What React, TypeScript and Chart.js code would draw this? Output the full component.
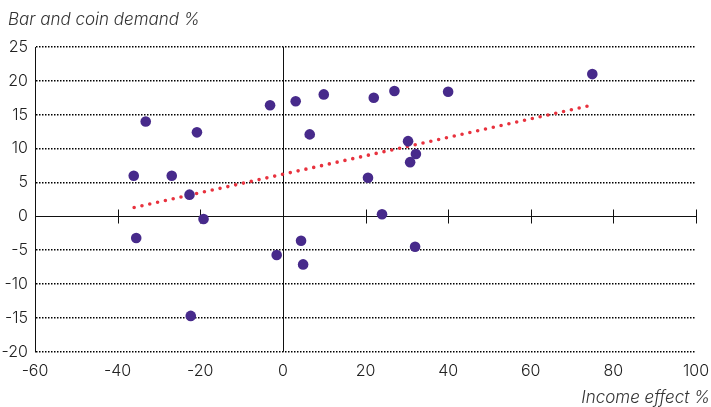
import React, { useEffect, useRef } from "react";
import { Chart, registerables } from "chart.js";

Chart.register(...registerables);

const incomeEffect = [
  -36.1, -33.2, -26.9, -20.8, -22.6, -19.2, -35.5, -22.3, -1.5, 4.4, 4.9, -3.1, 3.1,
  9.9, 6.5, 22.0, 27.0, 40.0, 74.9, 30.3, 32.2, 30.8, 20.6, 24.0, 32.0,
];
const barCoinDemand = [
  6.0, 14.0, 6.0, 12.4, 3.2, -0.4, -3.2, -14.7, -5.7, -3.6, -7.1, 16.4, 17.0,
  18.0, 12.1, 17.5, 18.5, 18.4, 21.0, 11.1, 9.2, 8.0, 5.7, 0.3, -4.5,
];
const trendX = [-36, 74];
const trendY = [1.3, 16.3];
const xTicks = [-60, -40, -20, 0, 20, 40, 60, 80, 100];
const yTicks = [-20, -15, -10, -5, 0, 5, 10, 15, 20, 25];
const yTitle = "Bar and coin demand %";
const xTitle = "Income effect %";

const FONT = "Inter, 'Liberation Sans', Arial, sans-serif";

const axesDecor = {
  id: "axesDecor",
  beforeDatasetsDraw(chart: any) {
    const { ctx, chartArea, scales } = chart;
    const x = scales.x;
    const y = scales.y;
    const y0 = Math.round(y.getPixelForValue(0)) + 0.5;
    const x0 = Math.round(x.getPixelForValue(0)) + 0.5;
    ctx.save();
    ctx.strokeStyle = "#111";
    ctx.lineWidth = 1;
    ctx.setLineDash([]);
    ctx.beginPath();
    ctx.moveTo(chartArea.left, y0);
    ctx.lineTo(chartArea.right, y0);
    ctx.moveTo(x0, chartArea.top);
    ctx.lineTo(x0, chartArea.bottom);
    for (const v of xTicks) {
      const px = Math.round(x.getPixelForValue(v)) + 0.5;
      ctx.moveTo(px, y0 - 7);
      ctx.lineTo(px, y0 + 7);
    }
    ctx.stroke();
    ctx.restore();
  },
  afterDraw(chart: any) {
    const { ctx } = chart;
    ctx.save();
    ctx.fillStyle = "#333";
    ctx.font = `italic 300 17px ${FONT}`;
    ctx.textBaseline = "middle";
    ctx.textAlign = "left";
    ctx.fillText(yTitle, 8, 20);
    ctx.textAlign = "right";
    ctx.fillText(xTitle, 710, 398);
    ctx.restore();
  },
};

export default function App() {
  const ref = useRef<HTMLCanvasElement | null>(null);
  useEffect(() => {
    if (!ref.current) return;
    const points = incomeEffect.map((v, i) => ({ x: v, y: barCoinDemand[i] }));
    const trend = trendX.map((v, i) => ({ x: v, y: trendY[i] }));
    const chart = new Chart(ref.current, {
      type: "scatter",
      data: {
        datasets: [
          {
            type: "line",
            data: trend,
            borderColor: "#e8323e",
            borderWidth: 3.6,
            borderDash: [0, 8],
            borderCapStyle: "round",
            pointRadius: 0,
            fill: false,
            order: 2,
          } as any,
          {
            data: points,
            backgroundColor: "#472a8b",
            borderColor: "#472a8b",
            pointRadius: 5.3,
            pointBorderWidth: 0,
            order: 1,
          },
        ],
      },
      plugins: [axesDecor],
      options: {
        animation: false,
        responsive: false,
        devicePixelRatio: 1,
        layout: { padding: { left: 0, right: 0, top: 47, bottom: 16 } },
        plugins: {
          legend: { display: false },
          tooltip: { enabled: false },
          title: { display: false },
        },
        scales: {
          x: {
            type: "linear",
            min: -60,
            max: 100,
            afterBuildTicks: (s: any) => {
              s.ticks = xTicks.map((v) => ({ value: v }));
            },
            afterFit: (s: any) => {
              s.paddingRight = 15;
              s.paddingLeft = 0;
            },
            grid: { display: false, drawTicks: false },
            border: { display: false },
            ticks: {
              color: "#222",
              padding: 10,
              maxRotation: 0,
              font: { family: FONT, size: 16, weight: "300" as any },
            },
          },
          y: {
            type: "linear",
            min: -20,
            max: 25,
            afterBuildTicks: (s: any) => {
              s.ticks = yTicks.map((v) => ({ value: v }));
            },
            afterFit: (s: any) => {
              s.paddingTop = 0;
              s.paddingBottom = 0;
              s.width = 35;
            },
            grid: {
              drawTicks: false,
              lineWidth: 1.5,
              color: (c: any) => (c.tick && c.tick.value === 0 ? "rgba(0,0,0,0)" : "#000"),
            },
            border: {
              display: true,
              color: "#111",
              width: 1,
              dash: [1.5, 1.5],
            },
            ticks: {
              color: "#222",
              padding: 7,
              font: { family: FONT, size: 16, weight: "300" as any },
            },
          },
        },
      },
    });
    return () => chart.destroy();
  }, []);
  return (
    <div style={{ position: "fixed", left: 0, top: 0, width: 711, height: 407, background: "#fff" }}>
      <canvas ref={ref} width={711} height={407} style={{ width: 711, height: 407 }} />
    </div>
  );
}
